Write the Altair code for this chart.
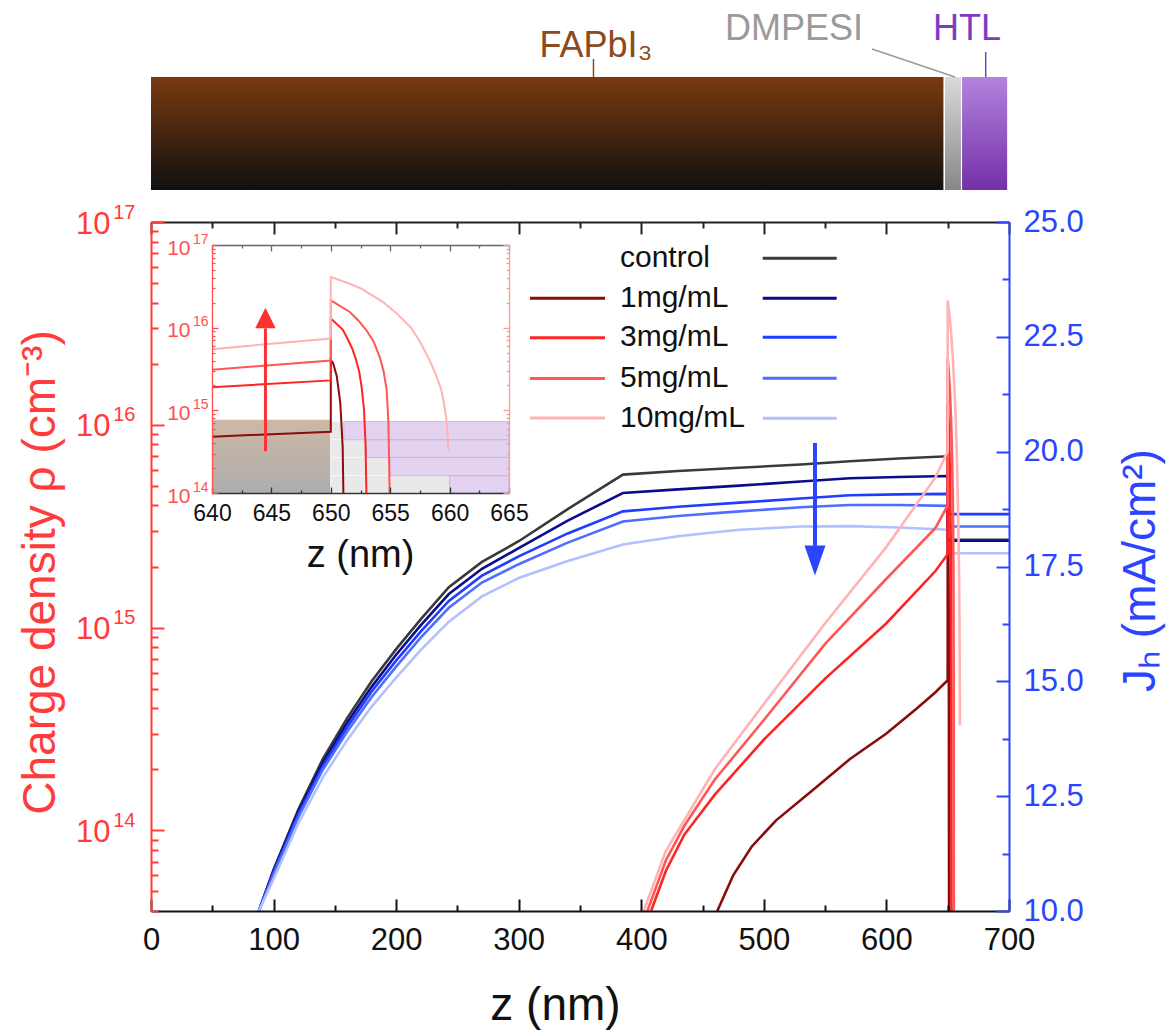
import altair as alt
import pandas as pd

FONT = "Liberation Sans"
RED = "#ff3b3b"
BLUE = "#2a44ff"
BLACK = "#111111"

# ---------------- data ----------------
SERIES = ["control", "1mg/mL", "3mg/mL", "5mg/mL", "10mg/mL"]
RED_SERIES = ["1mg/mL", "3mg/mL", "5mg/mL", "10mg/mL"]
BLUE_COLORS = ["#3a3a3a", "#0b0b8c", "#1f3cff", "#4f6dff", "#b3c0ff"]
RED_COLORS = ["#8a0c0c", "#ff2424", "#ff5656", "#ffb3b3"]

# hole current density J_h (mA/cm^2) vs z (nm)
Z_BLUE = [88, 100, 120, 140, 160, 180, 200, 220, 243, 270, 300, 340, 385, 430, 480, 530, 570, 610, 650, 650, 700]
J_CONTROL = [10.0, 10.9, 12.2, 13.3, 14.2, 15.0, 15.7, 16.35, 17.05, 17.6, 18.05, 18.75, 19.5, 19.58, 19.65, 19.72, 19.79, 19.85, 19.9, 18.08, 18.08]
J_1MG = [10.0, 10.88, 12.15, 13.22, 14.1, 14.88, 15.58, 16.22, 16.9, 17.45, 17.9, 18.5, 19.1, 19.18, 19.26, 19.35, 19.42, 19.45, 19.47, 18.06, 18.06]
J_3MG = [10.0, 10.85, 12.1, 13.15, 14.0, 14.78, 15.45, 16.08, 16.75, 17.3, 17.72, 18.22, 18.7, 18.8, 18.89, 18.98, 19.05, 19.07, 19.08, 18.64, 18.64]
J_5MG = [10.0, 10.8, 12.03, 13.07, 13.9, 14.66, 15.32, 15.95, 16.6, 17.15, 17.55, 18.02, 18.48, 18.6, 18.7, 18.79, 18.84, 18.84, 18.82, 18.37, 18.37]
J_10MG = [10.0, 10.7, 11.9, 12.9, 13.72, 14.45, 15.08, 15.68, 16.3, 16.85, 17.25, 17.62, 17.98, 18.16, 18.3, 18.37, 18.38, 18.35, 18.30, 17.79, 17.79]

# charge density rho (cm^-3) vs z (nm)
Z_R1 = [462, 475, 490, 510, 540, 570, 600, 625, 640, 650, 650, 650.2, 650.5, 650.8, 651.0, 651.06, 651.1]
RHO_R1 = [4.0e13, 6.0e13, 8.3e13, 1.12e14, 1.58e14, 2.24e14, 3.0e14, 4.0e14, 4.8e14, 5.5e14, 4.1e15, 3.7e15, 2.6e15, 1.23e15, 3.6e14, 1.0e14, 4.0e13]
Z_R3 = [408, 420, 435, 460, 500, 550, 600, 640, 650, 650, 651.0, 651.4, 651.8, 652.1, 652.4, 652.6, 652.8, 652.92, 653.0, 653.05]
RHO_R3 = [4.0e13, 6.3e13, 9.5e13, 1.5e14, 2.8e14, 5.6e14, 1.05e15, 1.9e15, 2.3e15, 1.29e16, 9.5e15, 7.4e15, 5.6e15, 4.2e15, 2.9e15, 1.9e15, 1.0e15, 4.0e14, 1.0e14, 4.0e13]
Z_R5 = [405, 420, 435, 460, 500, 550, 600, 640, 650, 650, 651.6, 652.3, 653.0, 653.6, 654.1, 654.45, 654.7, 654.85, 654.95, 655.0]
RHO_R5 = [4.0e13, 7.1e13, 1.05e14, 1.78e14, 3.5e14, 8.3e14, 1.74e15, 3.1e15, 4.0e15, 2.14e16, 1.55e16, 1.23e16, 9.3e15, 6.8e15, 4.5e15, 2.95e15, 1.78e15, 7.1e14, 1.0e14, 4.0e13]
Z_R10 = [402, 420, 435, 460, 500, 550, 600, 640, 650, 650, 651.6, 652.5, 654.4, 655.5, 656.7, 657.5, 658.3, 658.8, 659.3, 659.5, 659.7, 659.8, 659.9]
RHO_R10 = [4.0e13, 7.9e13, 1.12e14, 2.0e14, 4.2e14, 1.05e15, 2.5e15, 5.5e15, 7.4e15, 4.1e16, 3.4e16, 3.0e16, 2.04e16, 1.51e16, 1.02e16, 6.8e15, 4.1e15, 2.8e15, 1.78e15, 1.26e15, 8.5e14, 5.6e14, 3.3e14]

# device stack (schematic on top)
STACK_NAMES = ["FAPbI₃", "DMPESI", "HTL"]
STACK_START = [0, 647.8, 661.7]
STACK_END = [646.5, 660.8, 698.5]

# inset shading: DMPESI thickness per concentration (nm)
INSET_CONC = ["1mg/mL", "3mg/mL", "5mg/mL", "10mg/mL"]
INSET_THICK = [1.1, 3.0, 5.0, 10.0]
INSET_BAND_HI = [7.3e14, 4.4e14, 2.69e14, 1.62e14]
INSET_BAND_LO = [4.4e14, 2.69e14, 1.62e14, 1.0e14]

# ticks
X_MAJOR = [0, 100, 200, 300, 400, 500, 600, 700]
X_MINOR = [50, 150, 250, 350, 450, 550, 650]
RHO_MAJOR = [1e14, 1e15, 1e16, 1e17]
RHO_MINOR_MAIN = [m * 10.0 ** e for e in (13, 14, 15, 16) for m in range(2, 10) if m * 10.0 ** e >= 4e13]
RHO_MINOR_INSET = [m * 10.0 ** e for e in (14, 15, 16) for m in range(2, 10)]
J_MAJOR = [10, 12.5, 15, 17.5, 20, 22.5, 25]
J_MINOR = [11.25, 13.75, 16.25, 18.75, 21.25, 23.75]
ZI_MAJOR = [640, 645, 650, 655, 660, 665]
ZI_MINOR = [642.5, 647.5, 652.5, 657.5, 662.5]

EXP_LABEL = ("datum.value > 5e16 ? '17' : datum.value > 5e15 ? '16' : "
             "datum.value > 5e14 ? '15' : '14'")

# ---------------- tables ----------------
blue_df = pd.concat([
    pd.DataFrame({"z": Z_BLUE, "J": J, "series": s, "i": range(len(Z_BLUE))})
    for s, J in zip(SERIES, [J_CONTROL, J_1MG, J_3MG, J_5MG, J_10MG])
])
red_df = pd.concat([
    pd.DataFrame({"z": z, "rho": r, "series": s, "i": range(len(z))})
    for s, z, r in zip(RED_SERIES, [Z_R1, Z_R3, Z_R5, Z_R10], [RHO_R1, RHO_R3, RHO_R5, RHO_R10])
])
inset_df = red_df[(red_df["z"] >= 640) & (red_df["rho"] >= 1e14)]

LEG_J = [24.21, 23.34, 22.49, 21.60, 20.73]
LEG_RHO = [4.21e16, 2.69e16, 1.69e16, 1.08e16]
leg_text_df = pd.DataFrame({"label": SERIES, "J": LEG_J, "z": 382.6})
leg_blue_df = pd.DataFrame({"series": SERIES, "J": LEG_J, "z1": 499.1, "z2": 559.4})
leg_red_df = pd.DataFrame({"series": RED_SERIES, "rho": LEG_RHO, "z1": 309.2, "z2": 370.4})

stack_df = pd.DataFrame({"name": STACK_NAMES, "z0": STACK_START, "z1": STACK_END, "v0": 0, "v1": 113})
label_df = pd.DataFrame({"name": STACK_NAMES, "z": [363, 580.9, 665.7], "v": [133, 150, 150]})
leader_df = pd.DataFrame({"name": STACK_NAMES, "za": [361, 588.2, 681], "zb": [361, 656, 681],
                          "va": [131, 141, 138], "vb": [113, 113, 113]})

strip_df = pd.DataFrame({"conc": INSET_CONC, "lo": INSET_BAND_LO, "hi": INSET_BAND_HI,
                         "start": 650.0, "mid": [650 + t for t in INSET_THICK], "end": 665.0})
box_df = pd.DataFrame({"a": [640.0], "b": [650.0], "lo": [1e14], "hi": [7.7e14]})
inset_bg_df = pd.DataFrame({"a": [640.0], "b": [665.0], "lo": [1e14], "hi": [1e17]})
barrow_df = pd.DataFrame({"z": [541.7], "j1": [20.19], "j2": [17.95], "jh": [17.63]})
rarrow_df = pd.DataFrame({"z": [644.5], "r1": [3.2e14], "r2": [9.8e15], "rh": [1.31e16]})

# ---------------- scales ----------------
XS_MAIN = alt.Scale(domain=[0, 700], nice=False, zero=False)
YS_RHO = alt.Scale(type="log", domain=[4e13, 1e17], nice=False)
YS_J = alt.Scale(domain=[10, 25], nice=False, zero=False)
XS_IN = alt.Scale(domain=[640, 665], range=[61, 358], nice=False, zero=False)
YS_IN = alt.Scale(type="log", domain=[1e14, 1e17], range=[271, 23], nice=False)
YS_TOP = alt.Scale(domain=[0, 180], range=[-32, -212], nice=False, zero=False)


def ax(**kw):
    base = dict(grid=False, zindex=1, labelFlush=False, labelOverlap=False, title=None)
    base.update(kw)
    return alt.Axis(**base)


def tick_axis(orient, values, size, color, width, domain=False, offset=None):
    kw = dict(orient=orient, values=values, labels=False, ticks=True,
              tickSize={"expr": str(-size)}, tickColor=color, tickWidth=width, domain=domain)
    if domain:
        kw.update(domainColor=color, domainWidth=width)
    if offset is not None:
        kw["offset"] = offset
    return ax(**kw)


# main axes
AX_BOTTOM_LAB = ax(orient="bottom", values=X_MAJOR, format="d", ticks=False, domain=False,
                   labelFont=FONT, labelFontSize=31, labelColor=BLACK, labelPadding=14,
                   title="z (nm)", titleFont=FONT, titleFontSize=46, titleFontWeight="normal",
                   titleColor=BLACK, titleX=404, titleY=94, titleAlign="center", titleBaseline="middle")
AX_LEFT_LAB = ax(orient="left", values=RHO_MAJOR, labelExpr="'10'", ticks=False, domain=False,
                 labelFont=FONT, labelFontSize=31, labelColor=RED, labelPadding=41, labelOffset=2,
                 title="Charge density ρ (cm⁻³)", titleFont=FONT, titleFontSize=46,
                 titleFontWeight="normal", titleColor=RED, titleAngle=270, titleX=-111, titleY=350,
                 titleAlign="center", titleBaseline="middle")
AX_LEFT_SUP = ax(orient="left", values=RHO_MAJOR, labelExpr=EXP_LABEL, ticks=False, domain=False,
                 labelFont=FONT, labelFontSize=20, labelColor=RED, labelPadding=16, labelOffset=-10)
AX_RIGHT_LAB = ax(orient="right", values=J_MAJOR, format=".1f", ticks=False, domain=False,
                  labelFont=FONT, labelFontSize=31, labelColor=BLUE, labelPadding=14,
                  title="Jₕ (mA/cm²)", titleFont=FONT, titleFontSize=46, titleFontWeight="normal",
                  titleColor=BLUE, titleAngle=270, titleX=131, titleY=348,
                  titleAlign="center", titleBaseline="middle")
AX_BOTTOM_MAJ = tick_axis("bottom", X_MAJOR, 12, BLACK, 2, domain=True)
AX_BOTTOM_MIN = tick_axis("bottom", X_MINOR, 6, BLACK, 2)
AX_TOP_MAJ = tick_axis("top", X_MAJOR, 12, "#222222", 2, domain=True)
AX_TOP_MIN = tick_axis("top", X_MINOR, 6, "#222222", 2)
AX_LEFT_MAJ = tick_axis("left", RHO_MAJOR, 13, RED, 2, domain=True)
AX_LEFT_MIN = tick_axis("left", RHO_MINOR_MAIN, 7, RED, 2)
AX_RIGHT_MAJ = tick_axis("right", J_MAJOR, 13, BLUE, 2, domain=True)
AX_RIGHT_MIN = tick_axis("right", J_MINOR, 7, BLUE, 2)

# inset axes
IN_RED = "#ff5050"
AX_IN_X_LAB = ax(orient="bottom", offset=-418, values=ZI_MAJOR, format="d", ticks=False, domain=False,
                 labelFont=FONT, labelFontSize=23, labelColor=BLACK, labelPadding=9,
                 title="z (nm)", titleFont=FONT, titleFontSize=38, titleFontWeight="normal",
                 titleColor=BLACK, titleX=209, titleY=62, titleAlign="center", titleBaseline="middle")
AX_IN_Y_LAB = ax(orient="left", offset=-61, values=RHO_MAJOR, labelExpr="'10'", ticks=False,
                 domain=False, labelFont=FONT, labelFontSize=21, labelColor=IN_RED, labelPadding=22,
                 labelOffset=3)
AX_IN_Y_SUP = ax(orient="left", offset=-61, values=RHO_MAJOR, labelExpr=EXP_LABEL, ticks=False,
                 domain=False, labelFont=FONT, labelFontSize=14, labelColor=IN_RED, labelPadding=4,
                 labelOffset=-6)
AX_IN_X_MAJ = tick_axis("bottom", ZI_MAJOR, 6, "#333333", 1.3, domain=True, offset=-418)
AX_IN_X_MIN = tick_axis("bottom", ZI_MINOR, 3, "#333333", 1.3, offset=-418)
AX_IN_Y_MAJ = tick_axis("left", RHO_MAJOR, 6, IN_RED, 1.3, domain=True, offset=-61)
AX_IN_Y_MIN = tick_axis("left", RHO_MINOR_INSET, 3, IN_RED, 1.3, offset=-61)
AX_IN_TOP_MAJ = tick_axis("top", ZI_MAJOR, 6, "#666666", 1.3, domain=True, offset=-23)
AX_IN_TOP_MIN = tick_axis("top", ZI_MINOR, 3, "#666666", 1.3, offset=-23)
AX_IN_R_MAJ = tick_axis("right", RHO_MAJOR, 6, "#ff9a9a", 1.3, domain=True, offset=-500)
AX_IN_R_MIN = tick_axis("right", RHO_MINOR_INSET, 3, "#ff9a9a", 1.3, offset=-500)

# ---------------- top schematic ----------------
def tx(f):
    return alt.X(f, type="quantitative", scale=XS_MAIN, axis=None)


def ty(f):
    return alt.Y(f, type="quantitative", scale=YS_TOP, axis=None)


def grad(top, bottom):
    return alt.LinearGradient(gradient="linear",
                              stops=[alt.GradientStop(offset=0, color=top),
                                     alt.GradientStop(offset=1, color=bottom)],
                              x1=0, x2=0, y1=0, y2=1)


STACK_GRADS = [grad("#7a3a10", "#101010"), grad("#dadada", "#878787"), grad("#b283dc", "#7430a8")]
LABEL_COLORS = ["#8b4a1f", "#9a9a9a", "#7d3cc0"]
LABEL_ALIGN = ["center", "right", "center"]

top_layers = []
for name, g in zip(STACK_NAMES, STACK_GRADS):
    top_layers.append(alt.Chart(stack_df[stack_df["name"] == name]).mark_rect(color=g).encode(
        x=tx("z0"), x2="z1", y=ty("v0"), y2="v1"))
top_layers.append(alt.Chart(leader_df).mark_rule(strokeWidth=1.5).encode(
    x=tx("za"), x2="zb", y=ty("va"), y2="vb",
    color=alt.Color("name:N", scale=alt.Scale(domain=STACK_NAMES, range=LABEL_COLORS), legend=None)))
for name, c, a in zip(STACK_NAMES, LABEL_COLORS, LABEL_ALIGN):
    top_layers.append(alt.Chart(label_df[label_df["name"] == name]).mark_text(
        font=FONT, fontSize=36, color=c, align=a, baseline="alphabetic").encode(
        x=tx("z"), y=ty("v"), text="name:N"))
top_group = alt.layer(*top_layers)

# ---------------- blue (J_h) group ----------------
def xb(f):
    return alt.X(f, type="quantitative", scale=XS_MAIN, axis=AX_TOP_MAJ)


def yb(f):
    return alt.Y(f, type="quantitative", scale=YS_J, axis=AX_RIGHT_LAB)


BLUE_SCALE = alt.Scale(domain=SERIES, range=BLUE_COLORS)
blue_lines = alt.Chart(blue_df).mark_line(strokeWidth=2.6, clip=True).encode(
    x=xb("z"), y=yb("J"), order="i:Q",
    color=alt.Color("series:N", scale=BLUE_SCALE, legend=None))
blue_leg = alt.Chart(leg_blue_df).mark_rule(strokeWidth=3).encode(
    x=xb("z1"), x2="z2", y=yb("J"),
    color=alt.Color("series:N", scale=BLUE_SCALE, legend=None))
leg_text = alt.Chart(leg_text_df).mark_text(font=FONT, fontSize=30, color=BLACK, align="left",
                                            baseline="middle").encode(
    x=xb("z"), y=yb("J"), text="label:N")
barrow_shaft = alt.Chart(barrow_df).mark_rule(strokeWidth=4, color=BLUE).encode(
    x=xb("z"), y=yb("j1"), y2="j2")
barrow_head = alt.Chart(barrow_df).mark_point(shape="M-0.7,-1L0.7,-1L0,1Z", size=900, filled=True,
                                              opacity=1, color=BLUE, strokeWidth=0).encode(
    x=xb("z"), y=yb("jh"))
blue_group = alt.layer(blue_lines, blue_leg, leg_text, barrow_shaft, barrow_head)

# ---------------- red (rho) group ----------------
def xr(f):
    return alt.X(f, type="quantitative", scale=XS_MAIN, axis=AX_BOTTOM_LAB)


def yr(f):
    return alt.Y(f, type="quantitative", scale=YS_RHO, axis=AX_LEFT_LAB)


RED_SCALE = alt.Scale(domain=RED_SERIES, range=RED_COLORS)
red_lines = alt.Chart(red_df).mark_line(strokeWidth=2.6, clip=True).encode(
    x=xr("z"), y=yr("rho"), order="i:Q",
    color=alt.Color("series:N", scale=RED_SCALE, legend=None))
red_leg = alt.Chart(leg_red_df).mark_rule(strokeWidth=3).encode(
    x=xr("z1"), x2="z2", y=yr("rho"),
    color=alt.Color("series:N", scale=RED_SCALE, legend=None))
red_group = alt.layer(red_lines, red_leg)

# ---------------- inset group ----------------
def xi(f):
    return alt.X(f, type="quantitative", scale=XS_IN, axis=AX_IN_X_LAB)


def yi(f):
    return alt.Y(f, type="quantitative", scale=YS_IN, axis=AX_IN_Y_LAB)


inset_bg = alt.Chart(inset_bg_df).mark_rect(color="white").encode(x=xi("a"), x2="b", y=yi("lo"), y2="hi")
inset_box = alt.Chart(box_df).mark_rect(color=grad("#cbb4a2", "#a9a9a9"), opacity=0.95).encode(
    x=xi("a"), x2="b", y=yi("lo"), y2="hi")
inset_gray = alt.Chart(strip_df).mark_rect(color="#e9e9e9", stroke="#f8f8f8", strokeWidth=1).encode(
    x=xi("start"), x2="mid", y=yi("lo"), y2="hi")
inset_purple = alt.Chart(strip_df).mark_rect(color="#e3d3f0", stroke="#cbb4e0", strokeWidth=1).encode(
    x=xi("mid"), x2="end", y=yi("lo"), y2="hi")
inset_lines = alt.Chart(inset_df).mark_line(strokeWidth=2).encode(
    x=xi("z"), y=yi("rho"), order="i:Q",
    color=alt.Color("series:N", scale=RED_SCALE, legend=None))
rarrow_shaft = alt.Chart(rarrow_df).mark_rule(strokeWidth=3, color="#ff3030").encode(
    x=xi("z"), y=yi("r1"), y2="r2")
rarrow_head = alt.Chart(rarrow_df).mark_point(shape="M-1,1L1,1L0,-1Z", size=420, filled=True,
                                              opacity=1, color="#ff3030", strokeWidth=0).encode(
    x=xi("z"), y=yi("rh"))
inset_group = alt.layer(inset_bg, inset_box, inset_gray, inset_purple, inset_lines,
                        rarrow_shaft, rarrow_head)


# ---------------- invisible tick-only layers ----------------
def inv(xvals, yvals, xscale, yscale, xaxis, yaxis):
    df = pd.DataFrame({"x": xvals, "y": yvals})
    return alt.Chart(df).mark_point(opacity=0).encode(
        x=alt.X("x:Q", scale=xscale, axis=xaxis),
        y=alt.Y("y:Q", scale=yscale, axis=yaxis))


RHO_DOM = [4e13, 1e17]
L2 = inv([0, 700], RHO_DOM, XS_MAIN, YS_RHO, AX_BOTTOM_MAJ, AX_LEFT_MAJ)
L3 = inv([0, 700], RHO_DOM, XS_MAIN, YS_RHO, AX_BOTTOM_MIN, AX_LEFT_MIN)
L5 = inv([0, 700], [10, 25], XS_MAIN, YS_J, AX_TOP_MIN, AX_RIGHT_MAJ)
L6 = inv([0, 700], [10, 25], XS_MAIN, YS_J, None, AX_RIGHT_MIN)
L7 = inv([0, 700], RHO_DOM, XS_MAIN, YS_RHO, None, AX_LEFT_SUP)
I2 = inv([640, 665], [1e14, 1e17], XS_IN, YS_IN, AX_IN_X_MAJ, AX_IN_Y_MAJ)
I3 = inv([640, 665], [1e14, 1e17], XS_IN, YS_IN, AX_IN_X_MIN, AX_IN_Y_MIN)
I4 = inv([640, 665], [1e14, 1e17], XS_IN, YS_IN, AX_IN_TOP_MAJ, AX_IN_R_MAJ)
I5 = inv([640, 665], [1e14, 1e17], XS_IN, YS_IN, AX_IN_TOP_MIN, AX_IN_R_MIN)
I6 = inv([640, 665], [1e14, 1e17], XS_IN, YS_IN, None, AX_IN_Y_SUP)

chart = alt.layer(
    top_group, blue_group, red_group, L2, L3, L5, L6, L7, inset_group, I2, I3, I4, I5, I6
).resolve_scale(
    x="independent", y="independent", color="independent"
).properties(
    width=858, height=689,
    autosize=alt.AutoSizeParams(type="none"),
    padding={"left": 151, "top": 222, "right": 159, "bottom": 123},
    background="white",
).configure(font=FONT).configure_view(stroke=None)

chart.save("out.html", embed_options={"renderer": "svg", "actions": False})
